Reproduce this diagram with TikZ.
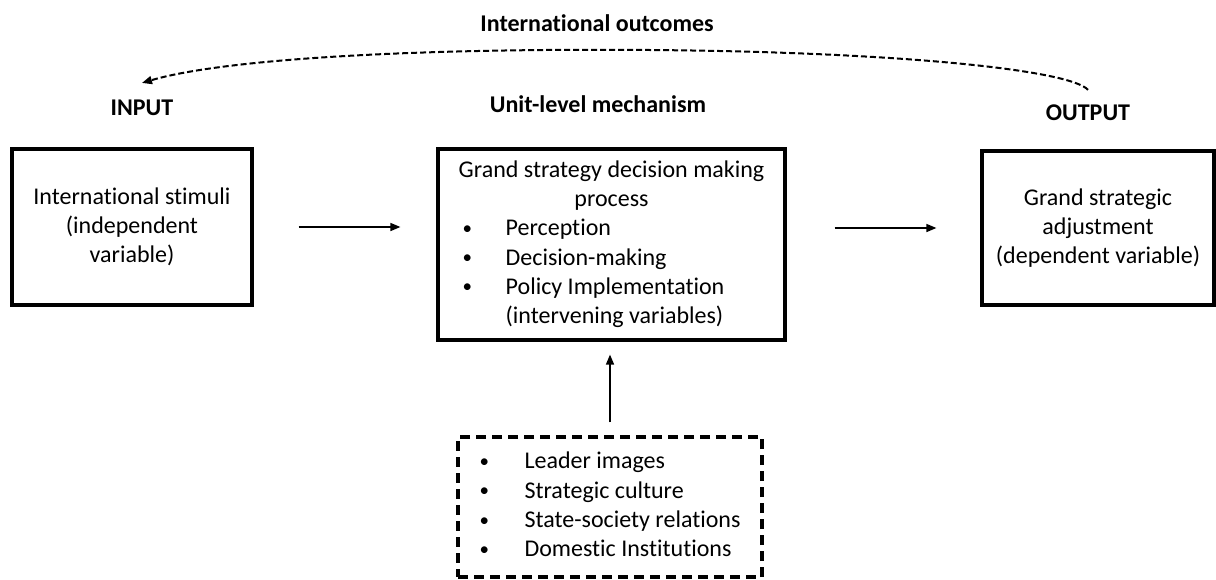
\documentclass[tikz,border=0pt]{standalone}
\usepackage{fontspec}
\setmainfont{Carlito}[RawFeature={-liga}]
\usepackage{tikz}
\usetikzlibrary{arrows.meta,positioning}

\newcommand{\bul}{\raisebox{1.5pt}{\fontsize{19}{19}\selectfont\textbullet}}

\begin{document}
\begin{tikzpicture}[x=1pt,y=-1pt,
  txt/.style={font=\fontsize{24}{29.3}\selectfont},
  head/.style={font=\fontsize{24}{29.3}\selectfont\bfseries,inner sep=0pt},
  box/.style={txt,draw,line width=3.2pt,inner sep=0pt,align=center},
  dashbox/.style={txt,draw,line width=3.2pt,inner sep=0pt,dash pattern=on 10pt off 6pt},
  flow/.style={line width=1.5pt,-{Triangle[length=10pt,width=8pt]}},
  feedback/.style={line width=2pt,dash pattern=on 6pt off 3pt,-{Triangle[length=10pt,width=8pt]}}]

\useasboundingbox (0,0) rectangle (1216,579);

% headings
\node[head] (outcomes) at (597,23) {International outcomes};
\node[head] (input) at (142,108) {INPUT};
\node[head] (mechanism) at (598,104) {Unit-level mechanism};
\node[head] (output) at (1088,113) {OUTPUT};

% boxes
\node[box,minimum width=240pt,minimum height=156pt] (stimuli) at (132,227)
  {International stimuli\\(independent\\variable)};

\node[box,minimum width=347pt,minimum height=191pt] (process) at (611.5,244.5)
  {\begin{tabular}{@{}p{47pt}@{}l@{}}
   \multicolumn{2}{@{}c@{}}{Grand strategy decision making}\\
   \multicolumn{2}{@{}c@{}}{process}\\
   \hspace*{4pt}\bul & Perception\\
   \hspace*{4pt}\bul & Decision-making\\
   \hspace*{4pt}\bul & Policy Implementation\\
    & (intervening variables)
   \end{tabular}};

\node[box,minimum width=232pt,minimum height=154pt] (adjustment) at (1098,228)
  {Grand strategic\\adjustment\\(dependent variable)};

\node[dashbox,minimum width=304pt,minimum height=140pt] (domestic) at (610,507)
  {\begin{tabular}{@{}p{45pt}@{}l@{}}
   \bul & Leader images\\
   \bul & Strategic culture\\
   \bul & State-society relations\\
   \bul & Domestic Institutions
   \end{tabular}};

% arrows
\draw[flow,shorten <=45pt,shorten >=36pt] (stimuli.east) -- (stimuli.east -| process.west);
\draw[flow,shorten <=48pt,shorten >=44pt] (process.east |- adjustment.west) -- (adjustment.west);
\draw[flow,shorten <=13pt,shorten >=13pt] (domestic.north) -- (domestic.north |- process.south);

\coordinate (top) at (650,50);
\draw[feedback] ([yshift=15pt]output.north) .. controls (1070,70) and (900,52) .. (top)
  .. controls (400,48) and (220,60) .. ([yshift=17pt]input.north);

\end{tikzpicture}
\end{document}
